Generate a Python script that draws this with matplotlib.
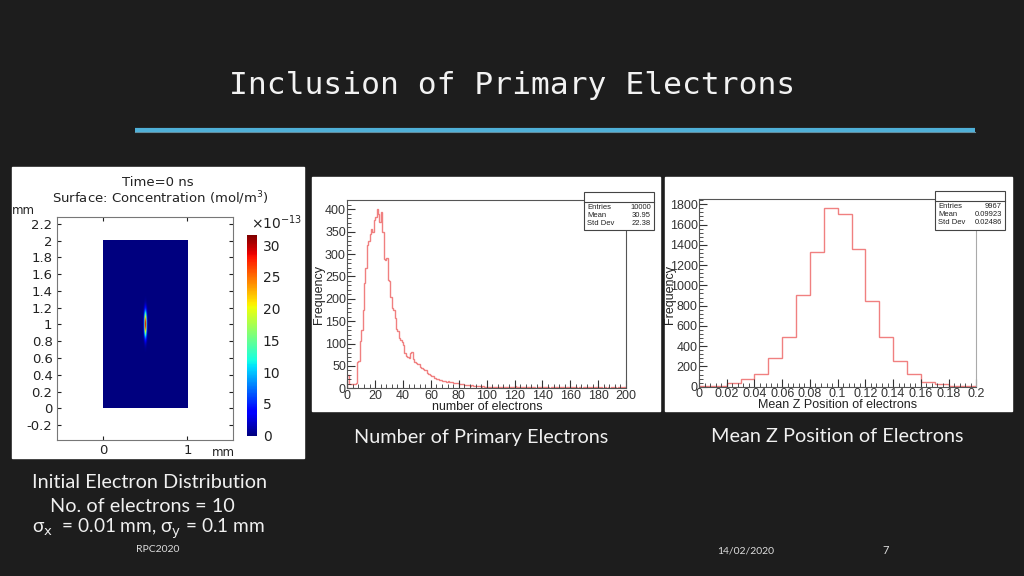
import numpy as np
import matplotlib
matplotlib.use('Agg')
import matplotlib.pyplot as plt
from matplotlib.patches import Rectangle
from matplotlib.ticker import MultipleLocator

# ---- data ----
# COMSOL initial distribution (gaussian spot, parameters from the caption)
spot_center = (0.5, 1.0)      # mm
sigma_x, sigma_y = 0.01, 0.1  # mm
spot_peak = 31.0              # x1e-13 mol/m^3
cbar_ticks = [0, 5, 10, 15, 20, 25, 30]

# number of primary electrons, bins of width 1 from 0 to 200
n_edges = np.arange(0, 201)
n_counts = [
    30, 10, 9, 10, 9, 10, 11, 58, 60, 105,
    130, 175, 235, 270, 320, 330, 345, 357, 350, 376,
    382, 400, 390, 372, 395, 350, 288, 286, 292, 242,
    240, 205, 180, 175, 157, 132, 128, 112, 108, 104,
    97, 80, 72, 70, 67, 80, 82, 66, 58, 56,
    54, 55, 48, 46, 44, 41, 40, 34, 32, 30,
    27, 28, 24, 22, 21, 20, 19, 18, 17, 17,
    16, 15, 16, 14, 15, 13, 12, 12, 11, 12,
    10, 9, 10, 9, 8, 8, 7, 7, 6, 7,
    6, 5, 6, 5, 5, 6, 4, 5, 4, 4,
    4, 3, 4, 3, 3, 4, 3, 2, 3, 3,
    3, 2, 3, 3, 2, 3, 2, 3, 2, 2,
    6, 3, 2, 3, 2, 2, 3, 2, 2, 3,
    2, 2, 3, 2, 2, 1, 2, 3, 2, 2,
    2, 3, 4, 2, 2, 1, 2, 2, 3, 2,
    2, 1, 2, 2, 3, 2, 1, 2, 2, 1,
    3, 2, 1, 2, 2, 1, 2, 3, 1, 2,
    2, 1, 2, 2, 1, 2, 2, 1, 3, 2,
    2, 1, 2, 1, 2, 2, 1, 2, 1, 2,
    1, 2, 2, 1, 2, 1, 2, 1, 2, 2,
]
n_stats = [('Entries', '10000'), ('Mean', '30.95'), ('Std Dev', '22.38')]

# mean z position, bins of width 0.01 from 0 to 0.2
z_edges = np.linspace(0, 0.2, 21)
z_counts = [10, 10, 40, 80, 130, 280, 495, 900, 1325, 1760,
            1700, 1360, 850, 490, 250, 130, 50, 25, 8, 2]
z_stats = [('Entries', '9967'), ('Mean', '0.09923'), ('Std Dev', '0.02486')]

W, H = 1024, 576
fig = plt.figure(figsize=(10.24, 5.76), dpi=100)
fig.patch.set_facecolor('#1d1d1d')

def px_axes(x0, y0, x1, y1):
    return fig.add_axes([x0 / W, 1 - y1 / H, (x1 - x0) / W, (y1 - y0) / H])

def overlay_axes():
    a = fig.add_axes([0, 0, 1, 1])
    a.set_xlim(0, W)
    a.set_ylim(H, 0)
    a.axis('off')
    return a

bg = overlay_axes()

cap_font = ['Lato', 'DejaVu Sans']
root_font = ['Liberation Sans', 'DejaVu Sans']

# title and chalk line
bg.text(512, 86, 'Inclusion of Primary Electrons', family='DejaVu Sans Mono',
        fontsize=22.5, color='#f2f2f2', ha='center', va='center')
bg.plot([135, 975], [130, 130], color='#4fb0d8', lw=3, solid_capstyle='butt')
bg.plot([135, 975], [131.5, 131.5], color='#8fd0ea', lw=0.8, alpha=0.6)

# white panels
for x0, y0, x1, y1 in [(12, 167, 304, 458), (312, 177, 660, 411), (665, 177, 1012, 411)]:
    bg.add_patch(Rectangle((x0, y0), x1 - x0, y1 - y0, color='white', zorder=1))

# ---- panel 1: COMSOL surface plot ----
ax1 = px_axes(56.7, 216.7, 232.7, 440)
xs = np.linspace(0, 1, 600)
ys = np.linspace(0, 2, 1200)
X, Y = np.meshgrid(xs, ys)
field = spot_peak * np.exp(-0.5 * ((X - spot_center[0]) / sigma_x) ** 2
                           - 0.5 * ((Y - spot_center[1]) / sigma_y) ** 2)
im = ax1.imshow(field, extent=[0, 1, 0, 2], origin='lower', cmap='jet',
                vmin=0, vmax=31.6, aspect='auto', interpolation='bilinear')
ax1.set_xlim(-0.555, 1.54)
ax1.set_ylim(-0.378, 2.286)
ax1.set_xticks([0, 1])
ax1.set_yticks(np.round(np.arange(-0.2, 2.21, 0.2), 1))
ax1.set_yticklabels(['-0.2', '0', '0.2', '0.4', '0.6', '0.8', '1', '1.2', '1.4',
                     '1.6', '1.8', '2', '2.2'])
ax1.tick_params(direction='in', length=3, labelsize=9.5, colors='#222222',
                top=True, right=True, pad=3)
for s in ax1.spines.values():
    s.set_color('#777777')
    s.set_linewidth(0.8)
bg.text(158, 182, 'Time=0 ns', fontsize=9.5, ha='center', va='center', color='#222')
bg.text(160, 198, 'Surface: Concentration (mol/m$^3$)', fontsize=9.5,
        ha='center', va='center', color='#222')
bg.text(23, 211, 'mm', fontsize=8.5, ha='center', va='center', color='#222')
bg.text(223, 452, 'mm', fontsize=8.5, ha='center', va='center', color='#222')

cax = px_axes(246.7, 235, 257.3, 435.7)
cb = fig.colorbar(im, cax=cax, ticks=cbar_ticks)
cb.outline.set_visible(False)
cax.tick_params(length=0, labelsize=10, colors='#222222', pad=4)
bg.text(277, 223, r'$\times10^{-13}$', fontsize=10, ha='center', va='center', color='#222')

# ---- ROOT style histograms ----
def root_hist(box, edges, counts, xlim, ylim, xmaj, xmin, ymaj, ymin, fmt):
    ax = px_axes(*box)
    ax.stairs(counts, edges, color='#f08080', lw=1)
    ax.set_xlim(*xlim)
    ax.set_ylim(*ylim)
    ax.xaxis.set_major_locator(MultipleLocator(xmaj))
    ax.xaxis.set_minor_locator(MultipleLocator(xmin))
    ax.yaxis.set_major_locator(MultipleLocator(ymaj))
    ax.yaxis.set_minor_locator(MultipleLocator(ymin))
    ax.xaxis.set_major_formatter(fmt)
    ax.tick_params(which='both', direction='in', colors='#333333', labelsize=9,
                   pad=1)
    ax.tick_params(which='major', length=6)
    ax.tick_params(which='minor', length=3)
    for lab in ax.get_xticklabels() + ax.get_yticklabels():
        lab.set_family(root_font)
    for s in ax.spines.values():
        s.set_color('#555555')
        s.set_linewidth(0.8)
    return ax

def stat_box(a, box, stats):
    x0, y0, x1, y1 = box
    a.add_patch(Rectangle((x0, y0), x1 - x0, y1 - y0, facecolor='white',
                          edgecolor='#444444', lw=0.8))
    a.plot([x0, x1], [y0 + 10, y0 + 10], color='#444444', lw=0.8)
    for i, (k, v) in enumerate(stats):
        yy = y0 + 15 + i * 8
        a.text(x0 + 3, yy, k, fontsize=5.5, family=root_font, va='center',
               color='#222')
        a.text(x1 - 3, yy, v, fontsize=5.5, family=root_font, va='center',
               ha='right', color='#222')

def int_fmt(v, pos):
    return '%d' % round(v)

def z_fmt(v, pos):
    return '%g' % round(v, 3)

ax2 = root_hist((347.3, 200, 626, 388.3), n_edges, n_counts, (0, 200), (0, 421),
                20, 4, 50, 10, plt.FuncFormatter(int_fmt))
ax3 = root_hist((699, 199.3, 976.3, 386.7), z_edges, z_counts, (0, 0.2), (0, 1849),
                0.02, 0.004, 200, 40, plt.FuncFormatter(z_fmt))
ax3.spines['right'].set_color('#aaaaaa')

top = overlay_axes()
stat_box(top, (584, 192.3, 654, 230), n_stats)
stat_box(top, (935.3, 191, 1004.7, 230), z_stats)
top.text(319, 295, 'Frequency', rotation=90, fontsize=9, family=root_font,
         ha='center', va='center', color='#222')
top.text(487, 406.5, 'number of electrons', fontsize=9, family=root_font,
         ha='center', va='center', color='#222')
top.text(670, 295, 'Frequency', rotation=90, fontsize=9, family=root_font,
         ha='center', va='center', color='#222')
top.text(838, 405, 'Mean Z Position of electrons', fontsize=9, family=root_font,
         ha='center', va='center', color='#222')

# ---- captions ----
cw = '#f0f0f0'
top.text(481, 437, 'Number of Primary Electrons', family=cap_font, fontsize=14.3,
         color=cw, ha='center', va='center')
top.text(837, 437, 'Mean Z Position of Electrons', family=cap_font, fontsize=14.3,
         color=cw, ha='center', va='center')
top.text(150, 482, 'Initial Electron Distribution', family=cap_font, fontsize=14.3,
         color=cw, ha='center', va='center')
top.text(50, 506.5, 'No. of electrons = 10', family=cap_font, fontsize=14.3,
         color=cw, ha='left', va='center')
top.text(32, 529, r'σ$_{\rm x}$  = 0.01 mm, σ$_{\rm y}$ = 0.1 mm', family=cap_font,
         fontsize=13.7, color=cw, ha='left', va='center')
top.text(158, 550, 'RPC2020', family=cap_font, fontsize=7.5, color='#dddddd',
         ha='center', va='center')
top.text(746, 551, '14/02/2020', family=cap_font, fontsize=7.5, color='#dddddd',
         ha='center', va='center')
top.text(886, 551, '7', family=cap_font, fontsize=8, color='#dddddd',
         ha='center', va='center')

fig.savefig('out.png', dpi=100, facecolor=fig.get_facecolor())
